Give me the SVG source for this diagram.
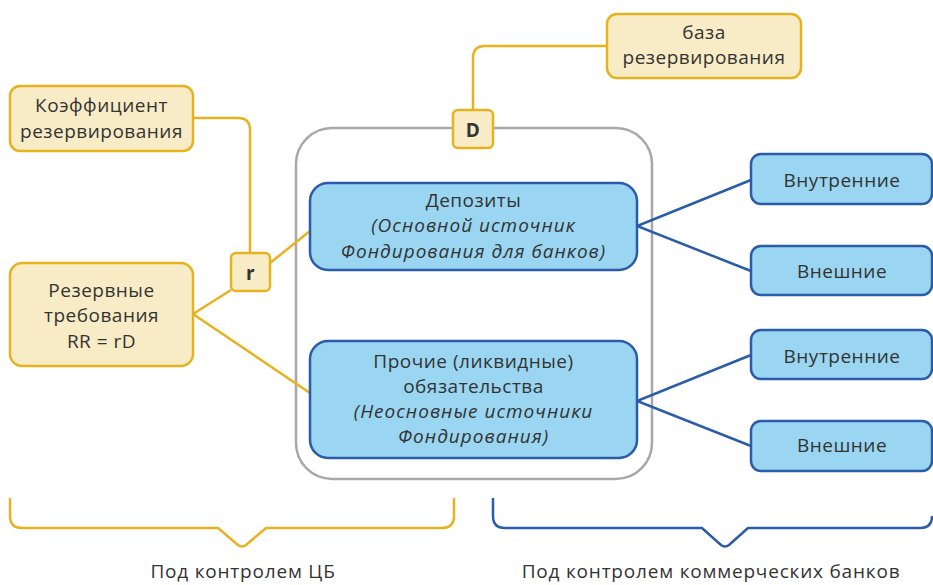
<svg xmlns="http://www.w3.org/2000/svg" width="933" height="585" viewBox="0 0 933 585">
<style>
text{font-family:"Open Sans","Noto Sans","DejaVu Sans",sans-serif;font-size:19px;fill:#333;text-anchor:middle;letter-spacing:0.5px}
.it{font-style:italic;letter-spacing:1px}
.b{font-weight:bold}
.lb{letter-spacing:0.8px}
.y{fill:#F8ECC6;stroke:#E8B21E;stroke-width:2.5}
.bl{fill:#9AD6F1;stroke:#2A5CAA;stroke-width:2.5}
.yl{fill:none;stroke:#E8B21E;stroke-width:2.5}
.bll{fill:none;stroke:#2A5CAA;stroke-width:2.5}
</style>
<rect width="933" height="585" fill="#fff"/>
<g id="container"><rect x="296" y="128" width="356" height="351" rx="36" fill="none" stroke="#A8A8A8" stroke-width="2.5"/></g>
<g id="connectors">
<path class="yl" d="M193 118 H238 Q250 118 250 130 V253"/>
<path class="yl" d="M473 110 V58 Q473 46 485 46 H607"/>
<path class="yl" d="M193 314 L231 290"/>
<path class="yl" d="M270 263 L310 231"/>
<path class="yl" d="M193 314 L310 393"/>
<path class="bll" d="M751 180 L637 226 L751 271"/>
<path class="bll" d="M751 355 L637 401 L751 446"/>
<path class="yl" d="M10 498 V516 Q10 528 22 528 H218 L238 545 Q242 548 246 545 L266 528 H442 Q454 528 454 516 V498"/>
<path class="bll" d="M493 498 V516 Q493 528 505 528 H702 L721 545 Q725 548 729 545 L748 528 H920 Q932 528 932 516"/>
</g>
<g id="koef"><rect class="y" x="10" y="86" width="183" height="65" rx="10"/><text x="101.5" y="112">Коэффициент</text><text x="101.5" y="138">резервирования</text></g>
<g id="rezerv"><rect class="y" x="10" y="263" width="183" height="103" rx="12"/><text x="101.5" y="297">Резервные</text><text x="101.5" y="322">требования</text><text x="101.5" y="348">RR = rD</text></g>
<g id="r"><rect class="y" x="231" y="253" width="39" height="38" rx="5"/><text class="b" x="250.5" y="280">r</text></g>
<g id="D"><rect class="y" x="453" y="110" width="40" height="38" rx="5"/><text class="b" x="473" y="137">D</text></g>
<g id="baza"><rect class="y" x="607" y="14" width="194" height="64" rx="10"/><text x="704" y="39">база</text><text x="704" y="64">резервирования</text></g>
<g id="deposits"><rect class="bl" x="310" y="183" width="327" height="87" rx="18"/><text x="473.5" y="207">Депозиты</text><text class="it" x="473.5" y="232">(Основной источник</text><text class="it" x="473.5" y="258">Фондирования для банков)</text></g>
<g id="other"><rect class="bl" x="310" y="341" width="327" height="117" rx="18"/><text x="473.5" y="368">Прочие (ликвидные)</text><text x="473.5" y="393">обязательства</text><text class="it" x="473.5" y="418">(Неосновные источники</text><text class="it" x="473.5" y="443">Фондирования)</text></g>
<g id="vn1"><rect class="bl" x="751" y="154" width="181" height="50" rx="10"/><text x="842" y="187">Внутренние</text></g>
<g id="ve1"><rect class="bl" x="751" y="246" width="181" height="49" rx="10"/><text x="842" y="278">Внешние</text></g>
<g id="vn2"><rect class="bl" x="751" y="330" width="181" height="49" rx="10"/><text x="842" y="363">Внутренние</text></g>
<g id="ve2"><rect class="bl" x="751" y="421" width="181" height="50" rx="10"/><text x="842" y="452">Внешние</text></g>
<g id="labels"><text class="lb" x="243" y="578">Под контролем ЦБ</text><text class="lb" x="711" y="578">Под контролем коммерческих банков</text></g>
</svg>
